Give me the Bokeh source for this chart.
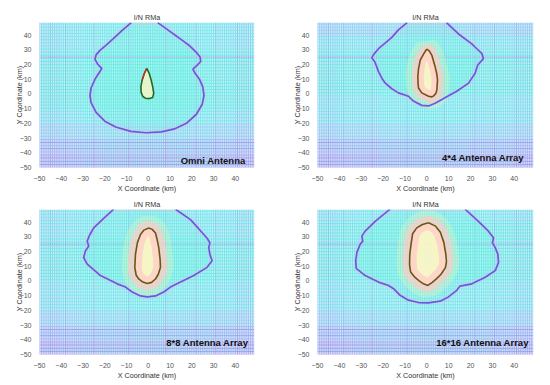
from bokeh.plotting import figure
from bokeh.layouts import gridplot
from bokeh.models import FixedTicker, Label
from bokeh.embed import file_html
from bokeh.resources import INLINE

# ---------------- data ----------------
x_ticks = [-50, -40, -30, -20, -10, 0, 10, 20, 30, 40]
y_ticks = [-50, -40, -30, -20, -10, 0, 10, 20, 30, 40]
mesh_x = list(range(-50, 49))
mesh_y = list(range(-50, 49))
titles = ["I/N RMa", "I/N RMa", "I/N RMa", "I/N RMa"]
names = ["Omni Antenna", "4*4 Antenna Array", "8*8 Antenna Array", "16*16 Antenna Array"]
x_label = "X Coordinate (km)"
y_label = "Y Coordinate (km)"

# mesh colour level per 10-km band (x bands -50..50, y bands -50..50)
omni_col_lv = [1, 2, 3, 4, 4, 4, 4, 3, 2, 1]
omni_row_lv = [0, 1, 2, 3, 4, 4, 4, 4, 3, 3]
a4_col_lv = [1, 2, 2, 3, 4, 4, 3, 2, 2, 1]
a4_row_lv = [0, 1, 2, 3, 3, 4, 4, 4, 3, 2]
a8_col_lv = [1, 2, 3, 3, 4, 4, 3, 3, 2, 1]
a8_row_lv = [0, 1, 2, 3, 3, 4, 4, 4, 3, 3]
a16_col_lv = [1, 2, 3, 3, 4, 4, 3, 3, 2, 1]
a16_row_lv = [0, 1, 2, 3, 3, 4, 4, 4, 4, 3]
# darker (moire) mesh lines seen in the picture
dark_x = [-45, -38, -25, -9, 8, 22, 31, 41]
dark_y = [-48, -46, -43, -37, -33, 25]

# outer (I/N threshold) contours
omni_outer_x = [-7.8, -12, -16.2, -19.5, -22.2, -24, -24.5, -23.2, -21.4, -22.3, -24.3, -26.3, -26.8,
                -26.3, -24, -20, -15, -8, -1, 6, 12, 17.5, 22, 24.8, 25.6, 25, 23.5, 21.5, 20.5,
                22.5, 24.1, 23.8, 22.5, 18.8, 15.5, 12.7, 8.5, 4.3]
omni_outer_y = [48.4, 43.2, 37.3, 33, 29.6, 26.5, 23.5, 20, 17.4, 15, 10.5, 4, -1,
                -6, -12.5, -18.5, -22.5, -25.5, -26.4, -25.8, -23.8, -20, -14, -7, -1, 5, 10, 14, 16.8,
                19.5, 22, 25, 27.5, 32.9, 36.5, 39.5, 44, 48.4]
omni_inner_x = [-0.7, -1.8, -2.8, -3.4, -3.3, -2.5, -1.2, 0.5, 2.0, 2.5, 2.0, 1.3, 0.4, -0.7]
omni_inner_y = [17.4, 14, 9.5, 5, 1, -1.8, -3.0, -3.2, -2.5, 0.5, 5, 9.5, 14, 17.4]

a4_outer_x = [-9, -13, -16, -19.5, -22.1, -24.2, -25.2, -23.8, -22.8, -22.1, -20.5, -19, -16, -13,
              -8.4, -6.1, -2.3, 0.8, 3.8, 6.9, 9.1, 13.7, 19.1, 22.1, 23.3, 25.9, 25.2, 23, 20.6, 14.5, 9]
a4_outer_y = [48.4, 43.5, 38.4, 34, 30.7, 27, 24.5, 21.8, 18, 15.1, 10.5, 7.3, 3.5, 0.7,
              -1.6, -4.9, -7.8, -8.2, -6.4, -3.8, -2, 1.8, 7.3, 14, 19.6, 24, 27.3, 30.5, 34, 40.7, 48.4]
a4_inner_x = [0, -1.5, -3, -3.8, -4.1, -4, -3.8, -2.3, 0.8, 2.3, 3, 4.2, 4.6, 4.9, 4.5, 3.8, 2.3, 1.2, 0]
a4_inner_y = [30.5, 27, 22.9, 17, 11.8, 7, 4, 0.7, -1.6, -2, -1.5, 0.5, 2.9, 9.6, 14, 18.4, 26.2, 29, 30.5]

a8_outer_x = [-15.9, -20.5, -25.1, -27, -28.1, -27.4, -28.9, -29.7, -28.1, -25, -22, -18, -14.3, -10.5,
              -7.4, -3.6, -0.5, 3.3, 7.1, 10.2, 14.8, 20.9, 27, 29.3, 28.3, 27.8, 28.3, 27, 25.5, 22.5,
              19.4, 12.5]
a8_outer_y = [48.7, 42.5, 36, 31, 27, 23.7, 20.3, 15.9, 11.4, 7.5, 3.6, 0.8, -2, -4.2,
              -7.5, -10.2, -10.9, -10.2, -7.5, -4.2, -0.8, 3.6, 9.2, 13.7, 18.1, 22.6, 25.9, 29, 31.5, 36.5,
              41.6, 48.7]
a8_inner_x = [0.2, -2, -3.6, -5, -5.9, -6.2, -5.6, -4.4, -2.8, -0.5, 1.5, 3.3, 4.6, 5.6, 5.4, 4.8, 4, 3.3, 1.8, 0.2]
a8_inner_y = [36, 34.5, 31.5, 26, 18.1, 9, 4, 1.3, -0.5, -1.8, -1, 1.3, 4.5, 9.2, 15, 22.6, 28.5, 32.5, 35, 36]

a16_outer_x = [-16.8, -20.3, -23.6, -28.2, -29.7, -29.3, -30.5, -32, -32.5, -32.3, -28.2, -22.1, -17.5,
               -15.2, -12.2, -8.4, -3.8, 0.8, 6.1, 9.9, 13.7, 15.2, 20.6, 26.7, 31.3, 32.8, 32.5, 31.3,
               30, 30.5, 28.2, 23.6, 17.5]
a16_outer_y = [48.7, 44.5, 40.4, 33.8, 30.4, 27, 24.8, 19.2, 13.7, 8.5, 3.6, -0.8, -3.1,
               -5.3, -9.8, -13.1, -14.7, -14.9, -13.8, -10.9, -6.4, -3.5, -2, 2.5, 7, 12.5, 18.1, 22.6,
               25.9, 29.3, 33.8, 40.4, 48.7]
a16_inner_x = [0.8, -2, -4.6, -6.5, -7.2, -7.8, -7.9, -7.4, -5.5, -3.5, -1.5, 0.5, 2.5, 4.5, 6.5, 8.5, 9,
               8.7, 7.8, 6.2, 4, 0.8]
a16_inner_y = [39.5, 38.3, 36, 32, 25, 18, 11, 6, 2.5, 0, -2, -3.1, -1, 1.5, 4.5, 9, 13, 18.1, 26, 33,
               37.2, 39.5]

# ---------------- style ----------------
palette = ["#ad9ef0", "#9db3f2", "#8ccef2", "#72e2ec", "#5fe9e4"]
DARK = "#7f9be6"
FONT = "Liberation Sans"
X_END, Y_END = 48.8, 48.5


def band(v, levels):
    i = int((v + 50) // 10)
    return levels[max(0, min(i, len(levels) - 1))]


def make_panel(col_lv, row_lv, ox, oy, ix, iy, name, name_xy, left, right, top, height,
               inner_color, halo):
    p = figure(width=275, height=height, x_range=(-50, X_END), y_range=(-50, Y_END),
               output_backend="svg", toolbar_location=None, title=titles[0],
               min_border_left=left, min_border_right=right, min_border_top=top, min_border_bottom=25)
    p.outline_line_color = None
    p.grid.visible = False
    p.background_fill_color = "white"
    p.border_fill_color = "white"

    # mesh lines
    vcol = [DARK if v in dark_x else palette[band(v, col_lv)] for v in mesh_x]
    p.segment(x0=mesh_x, y0=[-50] * len(mesh_x), x1=mesh_x, y1=[Y_END] * len(mesh_x),
              line_color=vcol, line_width=1, line_alpha=0.8)
    hcol = [DARK if v in dark_y else palette[band(v, row_lv)] for v in mesh_y]
    p.segment(x0=[-50] * len(mesh_y), y0=mesh_y, x1=[X_END] * len(mesh_y), y1=mesh_y,
              line_color=hcol, line_width=1, line_alpha=0.8)

    # tinted zone inside outer contour
    p.patch(ox, oy, fill_color="#6ff2e2", fill_alpha=0.2, line_color="#f4b8e4",
            line_width=5, line_alpha=0.25)
    # inner high zone: soft yellow glow, pink rim, pale yellow core
    if halo > 0:
        p.patch(ix, iy, fill_color="#e8f7a8", fill_alpha=0.0,
                line_color="#eef7b0", line_width=halo + 12, line_alpha=0.3)
        p.patch(ix, iy, fill_color="#fff5c4", fill_alpha=0.9,
                line_color="#ffc9c8", line_width=halo, line_alpha=0.7)
    else:
        p.patch(ix, iy, fill_color="#fff5c4", fill_alpha=0.8, line_color=None)
    # contours
    p.line(ox, oy, line_color="#6a58de", line_width=1.7)
    p.line(ix, iy, line_color=inner_color, line_width=1.6)

    lab = Label(x=name_xy[0], y=name_xy[1], text=name, text_align="right", text_baseline="middle",
                text_font_size="9.5px", text_font_style="bold", text_color="#111", text_font=FONT)
    p.add_layout(lab)

    p.title.text_font = FONT
    p.title.text_font_size = "7.2px"
    p.title.text_font_style = "normal"
    p.title.text_color = "#333"
    p.title.align = "center"
    p.title.standoff = 2

    for ax in (p.xaxis[0], p.yaxis[0]):
        ax.axis_line_color = None
        ax.major_tick_line_color = None
        ax.minor_tick_line_color = None
        ax.major_label_text_font = FONT
        ax.major_label_text_font_size = "7px"
        ax.major_label_text_color = "#555"
        ax.axis_label_text_font = FONT
        ax.axis_label_text_font_size = "7.2px"
        ax.axis_label_text_font_style = "normal"
        ax.axis_label_text_color = "#333"
        ax.major_label_standoff = 2
    p.xaxis[0].ticker = FixedTicker(ticks=x_ticks)
    p.yaxis[0].ticker = FixedTicker(ticks=y_ticks)
    p.xaxis[0].axis_label = x_label
    p.yaxis[0].axis_label = y_label
    p.xaxis[0].major_label_standoff = 2
    p.xaxis[0].axis_label_standoff = 0
    p.yaxis[0].axis_label_standoff = -7
    return p


p1 = make_panel(omni_col_lv, omni_row_lv, omni_outer_x, omni_outer_y, omni_inner_x, omni_inner_y,
                names[0], (44.7, -45.3), 39, 21, 22, 195, "#1f6b25", 0)
# red tip on omni inner contour
p1.line(omni_inner_x[:3], omni_inner_y[:3], line_color="#e0202a", line_width=1.2)
p2 = make_panel(a4_col_lv, a4_row_lv, a4_outer_x, a4_outer_y, a4_inner_x, a4_inner_y,
                names[1], (44.6, -43.5), 42, 17, 22, 195, "#7a4e12", 12)
p3 = make_panel(a8_col_lv, a8_row_lv, a8_outer_x, a8_outer_y, a8_inner_x, a8_inner_y,
                names[2], (46.1, -42), 39, 21, 14, 187, "#6e5514", 14)
p4 = make_panel(a16_col_lv, a16_row_lv, a16_outer_x, a16_outer_y, a16_inner_x, a16_inner_y,
                names[3], (46.8, -42), 42, 17, 14, 187, "#6e5514", 14)

grid = gridplot([[p1, p2], [p3, p4]], toolbar_location=None)
open("out.html", "w").write(file_html(grid, INLINE))
